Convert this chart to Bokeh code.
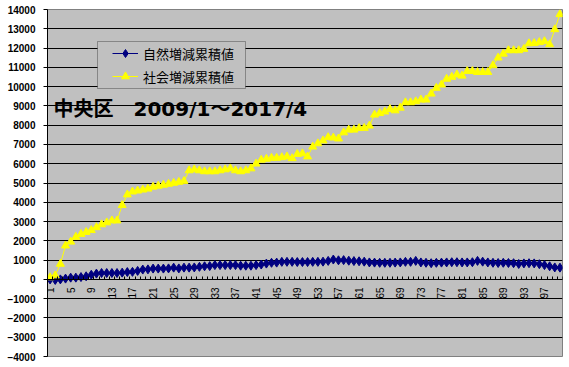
import math
from bokeh.plotting import figure
from bokeh.models import (Range1d, FixedTicker, Legend, LegendItem, Label,
                          BoxAnnotation, ColumnDataSource)
from bokeh.embed import file_html
from bokeh.resources import INLINE

months = list(range(1, 101))
natural = [0, -30, 0, 40, 90, 90, 120, 160, 240, 300,
           330, 330, 330, 330, 350, 380, 390, 440, 510, 520,
           560, 560, 560, 570, 610, 570, 610, 610, 620, 650,
           680, 690, 740, 740, 740, 740, 740, 710, 710, 710,
           740, 770, 820, 860, 870, 910, 910, 910, 900, 900,
           900, 910, 910, 920, 960, 1030, 990, 1000, 970, 950,
           940, 920, 880, 870, 860, 860, 860, 870, 880, 910,
           910, 960, 880, 860, 840, 860, 870, 880, 890, 890,
           880, 880, 890, 960, 920, 880, 860, 850, 860, 850,
           840, 800, 830, 840, 830, 790, 740, 680, 620, 610]
social = [100, 200, 800, 1750, 1950, 2200, 2350, 2450, 2550, 2700,
          2850, 2950, 3050, 3050, 3850, 4400, 4550, 4600, 4650, 4700,
          4800, 4850, 4900, 4950, 5000, 5050, 5100, 5650, 5700, 5650,
          5600, 5600, 5600, 5650, 5700, 5750, 5650, 5600, 5650, 5750,
          6000, 6200, 6250, 6300, 6300, 6330, 6370, 6280, 6500, 6530,
          6370, 6880, 7050, 7200, 7370, 7350, 7300, 7620, 7760, 7760,
          7840, 7850, 7970, 8540, 8620, 8700, 8830, 8760, 8900, 9180,
          9180, 9230, 9320, 9320, 9630, 9930, 10100, 10400, 10500, 10620,
          10560, 10800, 10800, 10750, 10750, 10750, 11100, 11500, 11700, 11880,
          11880, 11880, 11950, 12240, 12250, 12300, 12350, 12190, 12970, 13750]
y_ticks = list(range(-4000, 14001, 1000))
x_label_ticks = list(range(1, 101, 4))
series_names = ["自然増減累積値", "社会増減累積値"]
title_text = "中央区　2009/1～2017/4"

src = ColumnDataSource(dict(m=months, nat=natural, soc=social))

p = figure(frame_width=515, frame_height=347, output_backend="svg", toolbar_location=None,
           x_range=Range1d(0.5, 100.5), y_range=Range1d(-4000, 14000),
           min_border_left=47, min_border_right=5, min_border_top=9, min_border_bottom=8,
           background_fill_color="#C0C0C0", border_fill_color="white")
p.outline_line_color = "#808080"

# y axis
p.yaxis.ticker = FixedTicker(ticks=y_ticks)
p.yaxis.axis_line_color = "black"
p.yaxis.major_tick_line_color = "black"
p.yaxis.major_tick_out = 4
p.yaxis.major_tick_in = 0
p.yaxis.minor_tick_line_color = None
p.yaxis.major_label_text_font = "Liberation Sans"
p.yaxis.major_label_text_font_size = "10px"
p.yaxis.major_label_text_font_style = "bold"
p.yaxis.major_label_text_color = "black"
p.yaxis.major_label_standoff = 8

p.ygrid.ticker = FixedTicker(ticks=y_ticks)
p.ygrid.grid_line_color = "black"
p.ygrid.grid_line_width = 1
p.xgrid.visible = False

# x axis crossing at 0
p.xaxis.fixed_location = 0
p.xaxis.ticker = FixedTicker(ticks=x_label_ticks, minor_ticks=[m - 0.5 for m in months] + [months[-1] + 0.5])
p.xaxis.axis_line_color = "black"
p.xaxis.major_tick_in = 0
p.xaxis.major_tick_out = 0
p.xaxis.minor_tick_in = 3
p.xaxis.minor_tick_out = 0
p.xaxis.minor_tick_line_color = "black"
p.xaxis.major_label_orientation = math.pi / 2
p.xaxis.major_label_text_font = "Liberation Sans"
p.xaxis.major_label_text_font_size = "10px"
p.xaxis.major_label_text_color = "black"
p.xaxis.major_label_standoff = 8

l1 = p.line("m", "nat", source=src, line_color="#000080", line_width=1)
s1 = p.scatter("m", "nat", source=src, marker="diamond", size=9,
               fill_color="#000080", line_color="#000080")
l2 = p.line("m", "soc", source=src, line_color="#FFFF00", line_width=1)
s2 = p.scatter("m", "soc", source=src, marker="triangle", size=8,
               fill_color="#FFFF00", line_color="#FFFF00")

# legend frame
box = BoxAnnotation(left=50, right=198, bottom=268, top=315,
                    left_units="screen", right_units="screen",
                    bottom_units="screen", top_units="screen",
                    fill_color="#C0C0C0", fill_alpha=1,
                    line_color="black", line_width=1)
p.add_layout(box)

legend = Legend(items=[LegendItem(label=series_names[0], renderers=[l1, s1]),
                       LegendItem(label=series_names[1], renderers=[l2, s2])],
                location=(65, 270), padding=0, margin=0, spacing=3,
                glyph_width=26, glyph_height=20, label_height=20, label_standoff=5,
                label_text_font="Noto Sans CJK JP", label_text_font_size="13px",
                label_text_color="black",
                background_fill_alpha=0, border_line_alpha=0)
p.add_layout(legend)

title = Label(x=6, y=248, x_units="screen", y_units="screen", text=title_text,
              text_font="DejaVu Sans, Noto Sans CJK JP", text_font_size="20px",
              text_font_style="bold",
              text_color="black", text_baseline="middle", text_align="left")
p.add_layout(title)

open("out.html", "w").write(file_html(p, INLINE))
